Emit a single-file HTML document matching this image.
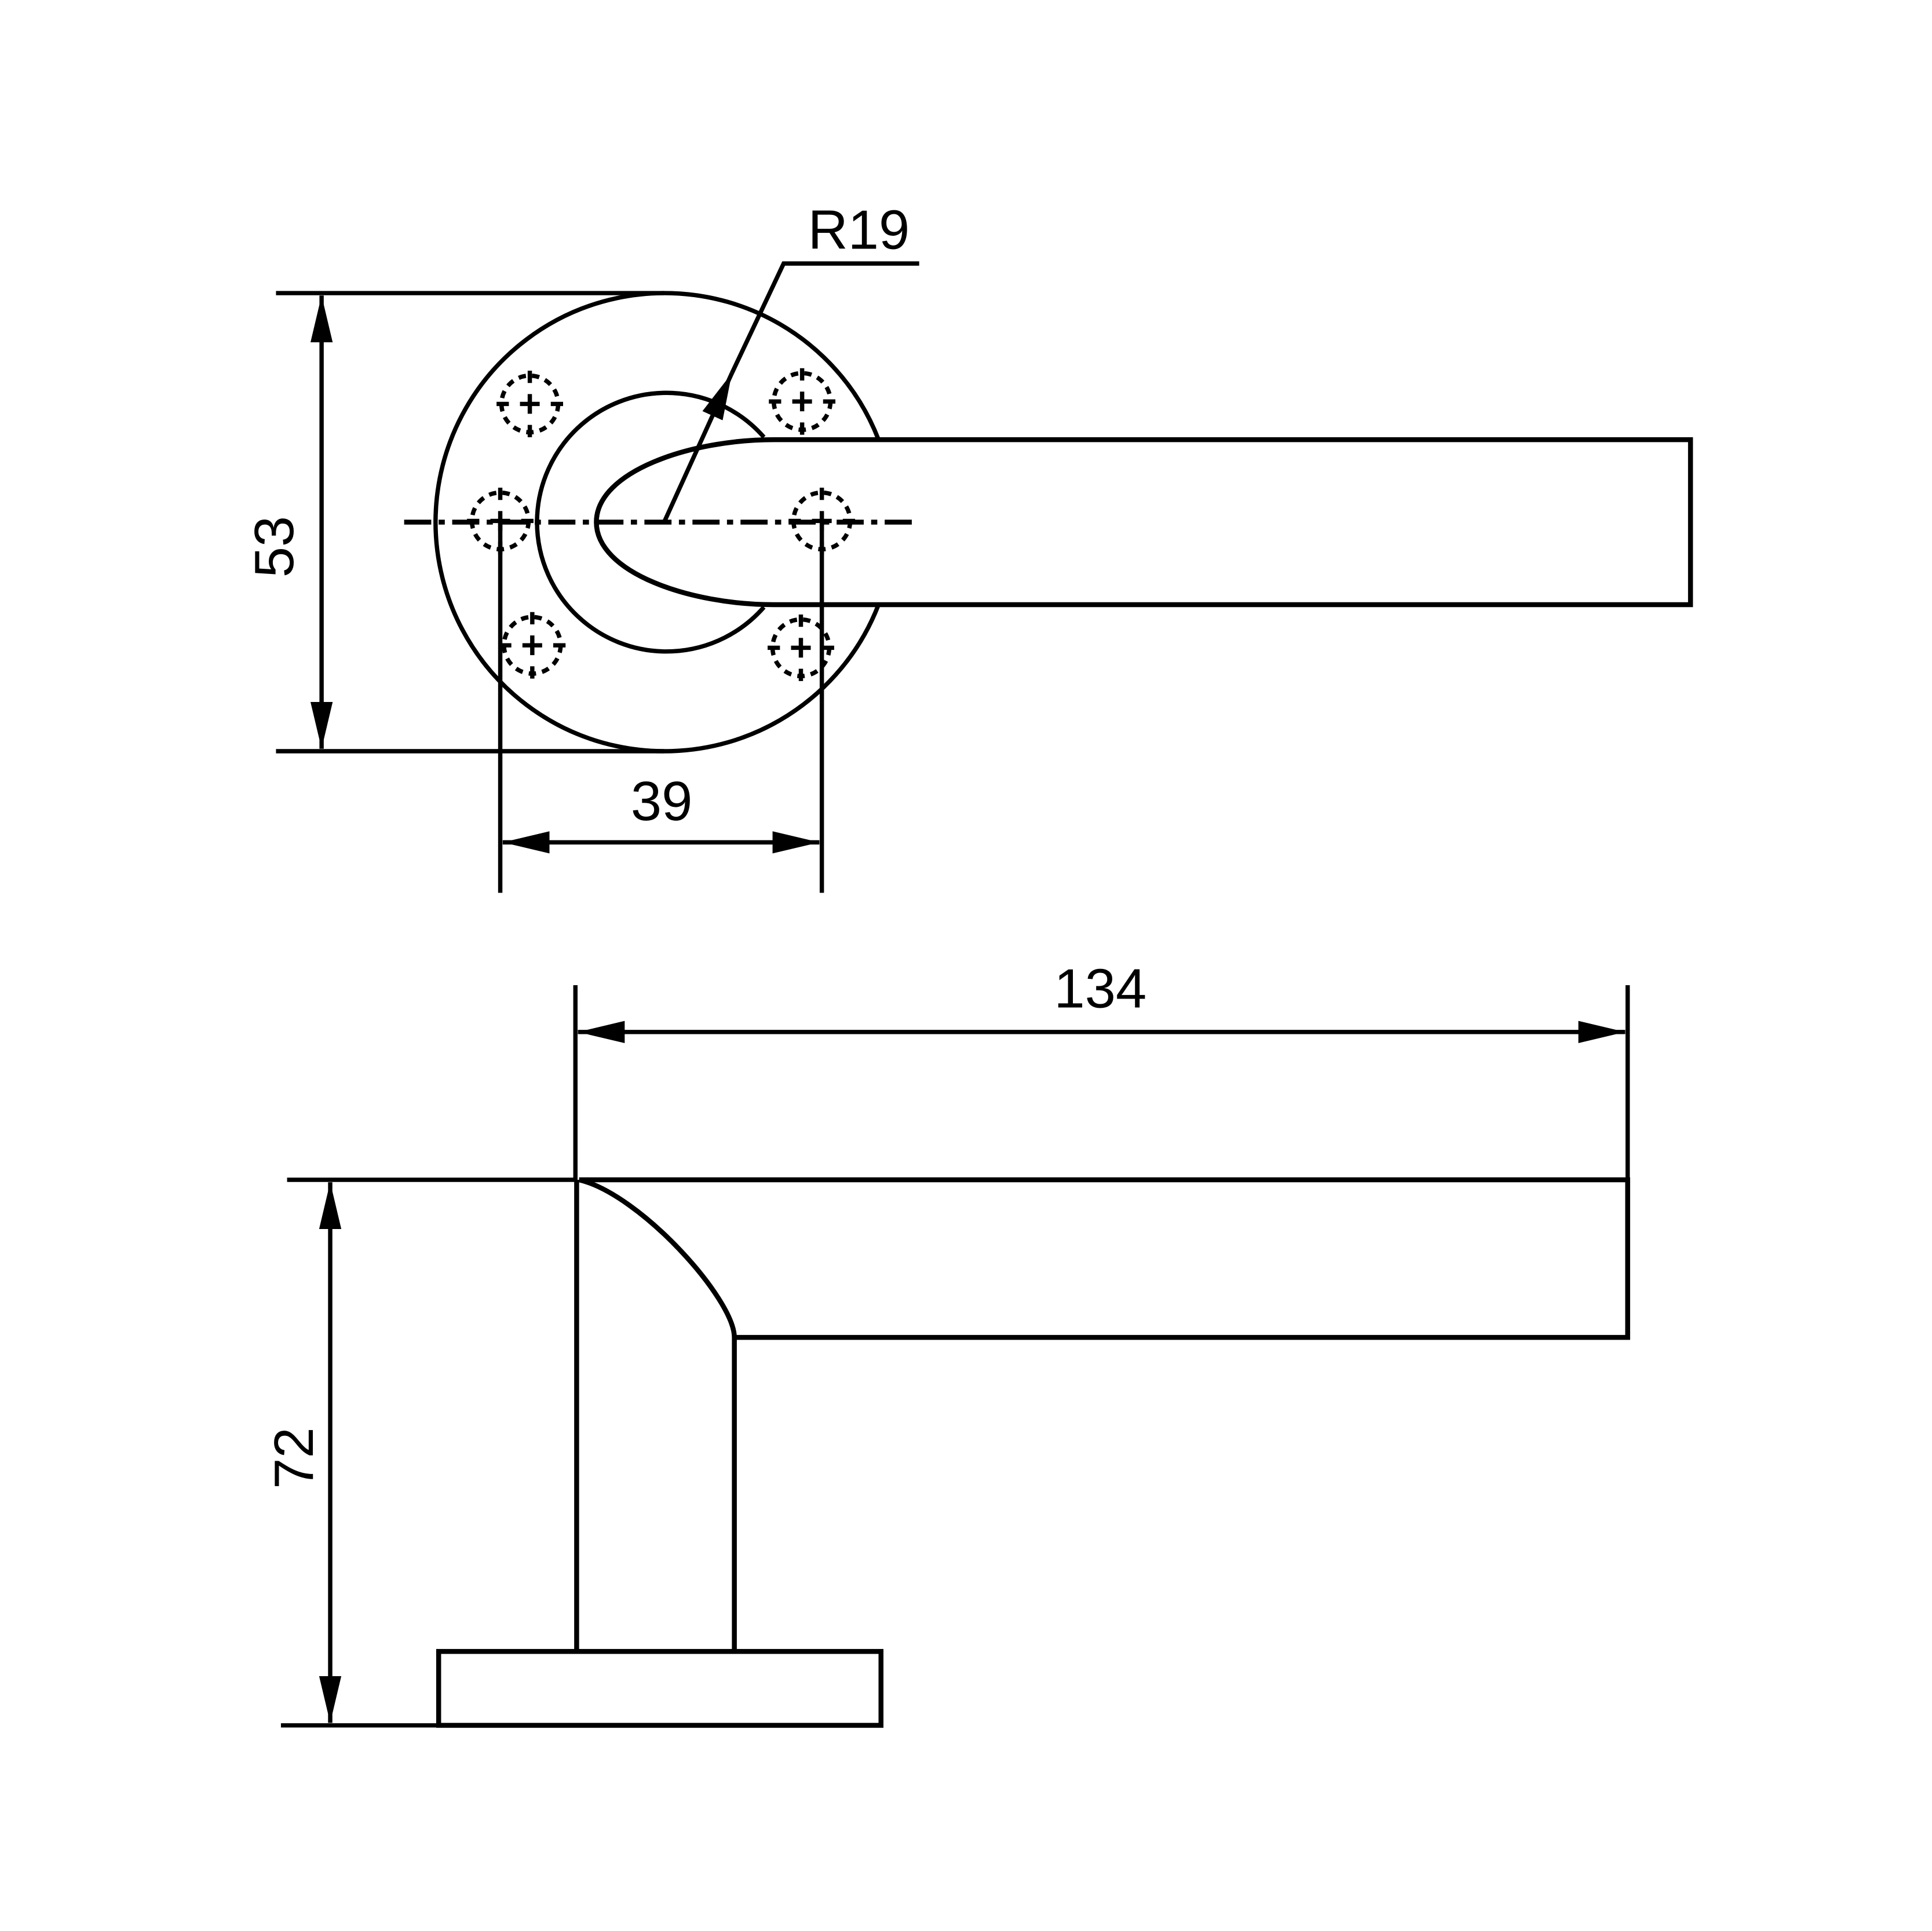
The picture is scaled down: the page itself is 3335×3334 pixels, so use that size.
<!DOCTYPE html>
<html><head><meta charset="utf-8"><style>html,body{margin:0;padding:0;background:#fff}svg{display:block}</style></head>
<body>
<svg width="3335" height="3334" viewBox="0 0 1568 1568" preserveAspectRatio="none" xmlns="http://www.w3.org/2000/svg">
<defs>
<marker id="a" markerWidth="40" markerHeight="20" refX="38" refY="9" orient="auto-start-reverse" markerUnits="userSpaceOnUse"><path d="M0,0 L38,9 L0,18 Z" fill="#000"/></marker>
<g id="scr">
<circle r="23" fill="none" stroke="#000" stroke-width="3.5" stroke-dasharray="6,5"/>
<path d="M-8,0H8M0,-8V8M-27,0H-17M17,0H27M0,-27V-17M0,17V27" stroke="#000" stroke-width="3.5"/>
</g>
</defs>
<g fill="none" stroke="#000" stroke-width="3.5">
<path d="M713,357 A186,186 0 1 0 713,491"/>
<path d="M620,355 A105,105 0 1 0 620,493"/>
<path d="M628,357 H1372 V491 H628 C560,491 484,465 484,424 C484,383 560,357 628,357 Z" stroke-width="4"/>
<path d="M328,424 H745" stroke-dasharray="22,6,5,6" stroke-width="4"/>
<use href="#scr" x="430" y="328"/><use href="#scr" x="651" y="326"/>
<use href="#scr" x="406" y="423"/><use href="#scr" x="667" y="423"/>
<use href="#scr" x="432" y="524"/><use href="#scr" x="650" y="526"/>
<path d="M224,238 H539 M224,610 H539"/>
<path d="M261,240 V608" marker-start="url(#a)" marker-end="url(#a)"/>
<path d="M406,424 V725 M667,424 V725"/>
<path d="M408,684 H665" marker-start="url(#a)" marker-end="url(#a)"/>
<path d="M539,424 L594,303" marker-end="url(#a)"/>
<path d="M594,303 L636,214 H746"/>
<path d="M467,800 V958 M1321,800 V958"/>
<path d="M469,838 H1319" marker-start="url(#a)" marker-end="url(#a)"/>
<path d="M470,958 H1321 V1086 H596 M470,958 C520,970 596,1055 596,1086 V1341 M468,958 V1341" stroke-width="4"/>
<rect x="356" y="1341" width="359" height="60" stroke-width="4"/>
<path d="M233,958 H468 M228,1401 H356"/>
<path d="M268,960 V1399" marker-start="url(#a)" marker-end="url(#a)"/>
</g>
<g font-family="Liberation Sans, sans-serif" font-size="45" fill="#000" text-anchor="middle">
<text x="697" y="202">R19</text>
<text x="537" y="666">39</text>
<text x="893" y="818">134</text>
<text transform="translate(238,444) rotate(-90)">53</text>
<text transform="translate(254,1184) rotate(-90)">72</text>
</g>
</svg>
</body></html>
